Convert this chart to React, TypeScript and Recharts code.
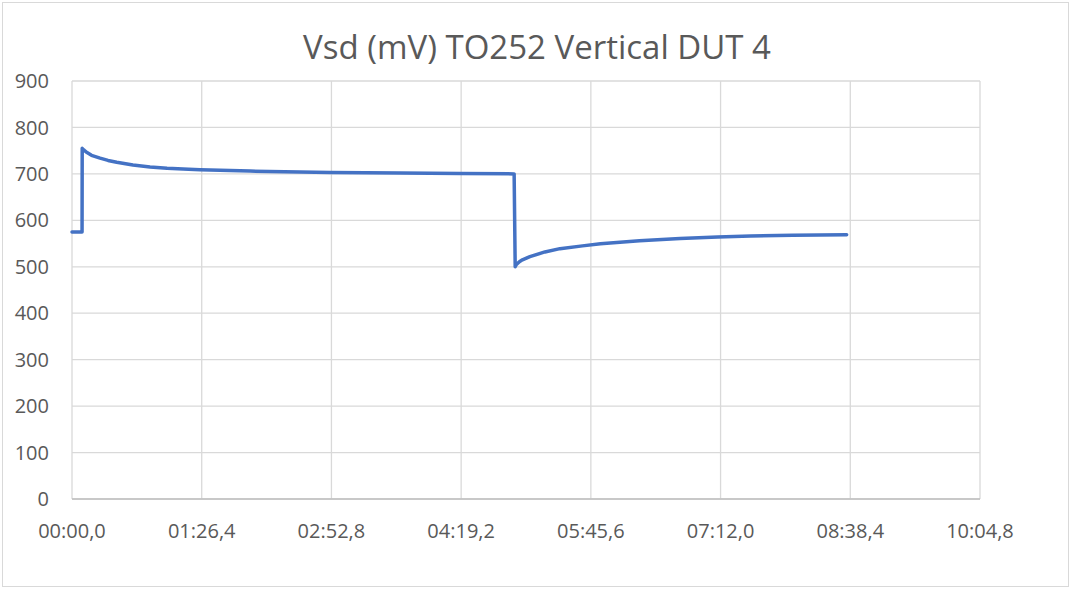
import React from "react";
import { LineChart, Line, XAxis, YAxis, CartesianGrid } from "recharts";

const timeSec: number[] = [
  0, 6.7, 6.8, 8, 10, 13, 18.7, 24, 29.8, 40.6, 52, 63.3, 74, 85.3, 118.6, 172, 218.5, 258.5, 294.5,
  295.2, 296, 298, 300, 305, 315, 325, 340, 352, 378, 405, 430, 452, 480, 516,
];
const vsdMv: number[] = [
  575, 575, 755, 751, 746, 740, 734, 729, 725, 719, 715, 712, 710.5, 709, 706, 703, 702, 701, 700,
  500, 505, 511, 515, 522, 532, 539, 545, 549.5, 556, 561, 564, 566, 568, 569,
];
const xTicks: number[] = [0, 86.4, 172.8, 259.2, 345.6, 432, 518.4, 604.8];
const yTicks: number[] = [0, 100, 200, 300, 400, 500, 600, 700, 800, 900];
const title = "Vsd (mV) TO252 Vertical DUT 4";

const data = timeSec.map((t, i) => ({ t, v: vsdMv[i] }));

const fmtTime = (s: number) => {
  const tenths = Math.round(s * 10);
  const mm = Math.floor(tenths / 600);
  const rem = tenths - mm * 600;
  const ss = Math.floor(rem / 10);
  const d = rem % 10;
  return `${String(mm).padStart(2, "0")}:${String(ss).padStart(2, "0")},${d}`;
};

const font = "'Open Sans', sans-serif";

export default function App() {
  return (
    <div style={{ position: "absolute", left: 0, top: 0, width: 1074, height: 590, background: "#fff", fontFamily: font }}>
      <div
        style={{
          position: "absolute",
          left: 2,
          top: 2,
          width: 1067,
          height: 585,
          border: "1px solid #d9d9d9",
          boxSizing: "border-box",
        }}
      />
      <div
        style={{
          position: "absolute",
          left: 0,
          top: 24,
          width: 1074,
          textAlign: "center",
          fontSize: 33,
          lineHeight: "46px",
          color: "#595959",
          fontFamily: font,
        }}
      >
        {title}
      </div>
      <div style={{ position: "absolute", left: 0, top: 0 }}>
        <LineChart width={1074} height={590} data={data} margin={{ top: 81, right: 94, left: 0, bottom: 61 }}>
          <CartesianGrid stroke="#d9d9d9" strokeWidth={1.3} />
          <XAxis
            dataKey="t"
            type="number"
            domain={[0, 604.8]}
            ticks={xTicks}
            tickFormatter={fmtTime}
            interval={0}
            height={30}
            tickLine={false}
            tickSize={0}
            tickMargin={25}
            axisLine={{ stroke: "#bfbfbf", strokeWidth: 1.3 }}
            tick={{ fill: "#595959", fontSize: 20, fontFamily: font }}
          />
          <YAxis
            type="number"
            domain={[0, 900]}
            ticks={yTicks}
            interval={0}
            width={72}
            axisLine={false}
            tickLine={false}
            tickSize={0}
            tickMargin={23}
            tick={{ fill: "#595959", fontSize: 20, fontFamily: font }}
          />
          <Line
            type="linear"
            dataKey="v"
            stroke="#4472C4"
            strokeWidth={3.5}
            strokeLinejoin="round"
            strokeLinecap="round"
            dot={false}
            isAnimationActive={false}
          />
        </LineChart>
      </div>
    </div>
  );
}
